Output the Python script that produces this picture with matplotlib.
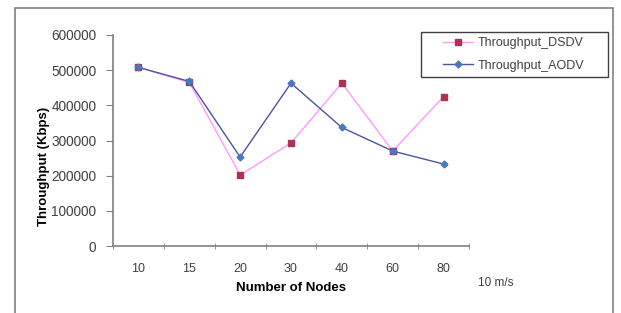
import matplotlib
matplotlib.use("Agg")
import matplotlib.pyplot as plt
from matplotlib.patches import Rectangle

plt.rcParams['font.family'] = ['Liberation Sans', 'DejaVu Sans']

nodes = ["10", "15", "20", "30", "40", "60", "80"]
dsdv = [508000, 465000, 202000, 293000, 463000, 270000, 425000]
aodv = [508000, 468000, 253000, 463000, 337000, 270000, 233000]
yticks = [0, 100000, 200000, 300000, 400000, 500000, 600000]

W, H = 621, 313
fig = plt.figure(figsize=(W / 100, H / 100), dpi=100)

# outer chart border
fig.patches.append(Rectangle((15 / W, -0.01), (613 - 15) / W, 1 - 8 / H + 0.01,
                             transform=fig.transFigure, fill=False,
                             edgecolor='#808080', linewidth=1.2))
# legend border
fig.patches.append(Rectangle((421 / W, 1 - 77 / H), (608 - 421) / W, 45 / H,
                             transform=fig.transFigure, fill=False,
                             edgecolor='#404040', linewidth=1.0, zorder=5))

ax = fig.add_axes([113 / W, 1 - 246 / H, (469 - 113) / W, (246 - 35) / H])
x = list(range(len(nodes)))
ax.plot(x, dsdv, color='#FF99FF', linewidth=1.0, marker='s', markersize=5,
        markerfacecolor='#B0304F', markeredgecolor='#B0304F', label='Throughput_DSDV', zorder=3)
ax.plot(x, aodv, color='#4A55A0', linewidth=1.0, marker='D', markersize=3.5,
        markerfacecolor='#4A78C0', markeredgecolor='#4A78C0', label='Throughput_AODV', zorder=4)

ax.set_xlim(-0.5, len(nodes) - 0.5)
ax.set_ylim(0, 600000)
ax.set_yticks(yticks)
ax.set_yticklabels([str(v) for v in yticks], fontsize=9.8, color='#404040')
ax.set_xticks(x)
ax.set_xticklabels(nodes, fontsize=9, color='#404040')
ax.tick_params(axis='x', length=0, pad=12)
ax.set_xticks([i - 0.5 for i in range(len(nodes) + 1)], minor=True)
ax.tick_params(axis='x', which='minor', length=4, direction='inout', color='#808080')
ax.tick_params(axis='y', length=5, direction='out', color='#808080', pad=7)
for s in ['top', 'right']:
    ax.spines[s].set_visible(False)
for s in ['left', 'bottom']:
    ax.spines[s].set_color('#808080')
    ax.spines[s].set_linewidth(1.2)

ax.set_xlabel('Number of Nodes', fontsize=9.5, fontweight='bold', labelpad=5)
ax.set_ylabel('Throughput (Kbps)', fontsize=9.5, fontweight='bold')
ax.yaxis.set_label_coords((50 - 113) / (469 - 113), (246 - 166) / 211)

leg = fig.legend(*ax.get_legend_handles_labels(), loc='center left',
                 bbox_to_anchor=(443 / W, 1 - 54.5 / H),
                 frameon=False, fontsize=9, handlelength=2.4,
                 borderpad=0, labelspacing=0.85, borderaxespad=0, handletextpad=0.4)
for t in leg.get_texts():
    t.set_color('#404040')

fig.text(478 / W, 1 - 283 / H, '10 m/s', fontsize=8.5, color='#404040', va='center', ha='left')

fig.savefig('out.png', dpi=100)
